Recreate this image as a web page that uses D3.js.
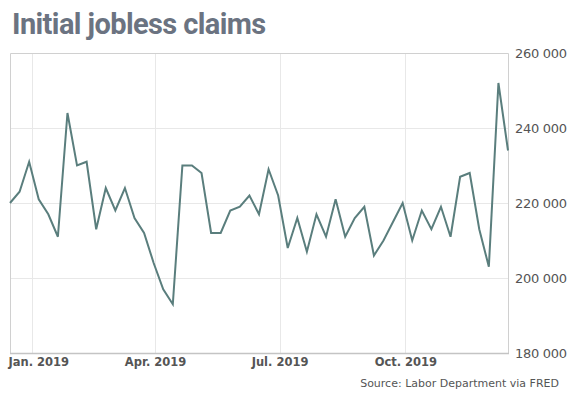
<!DOCTYPE html>
<html><head><meta charset="utf-8">
<script src="https://cdn.jsdelivr.net/npm/d3@7"></script>
<style>body{margin:0;background:#fff}svg{display:block}</style>
</head><body>
<svg id="c" width="569" height="398"></svg>
<script>
const dates = ["2018-12-16","2018-12-23","2018-12-30","2019-01-06","2019-01-13","2019-01-20","2019-01-27","2019-02-03","2019-02-10","2019-02-17","2019-02-24","2019-03-03","2019-03-10","2019-03-17","2019-03-24","2019-03-31","2019-04-07","2019-04-14","2019-04-21","2019-04-28","2019-05-05","2019-05-12","2019-05-19","2019-05-26","2019-06-02","2019-06-09","2019-06-16","2019-06-23","2019-06-30","2019-07-07","2019-07-14","2019-07-21","2019-07-28","2019-08-04","2019-08-11","2019-08-18","2019-08-25","2019-09-01","2019-09-08","2019-09-15","2019-09-22","2019-09-29","2019-10-06","2019-10-13","2019-10-20","2019-10-27","2019-11-03","2019-11-10","2019-11-17","2019-11-24","2019-12-01","2019-12-08","2019-12-15"];
const claims = [220000,223000,231000,221000,217000,211000,244000,230000,231000,213000,224000,218000,224000,216000,212000,204000,197000,193000,230000,230000,228000,212000,212000,218000,219000,222000,217000,229000,222000,208000,216000,207000,217000,211000,221000,211000,216000,219000,206000,210000,215000,220000,210000,218000,213000,219000,211000,227000,228000,213000,203000,252000,234000];
const xTicks = ["2019-01-01","2019-04-01","2019-07-01","2019-10-01"];
const xTickLabels = ["Jan. 2019","Apr. 2019","Jul. 2019","Oct. 2019"];
const yTicks = [180000,200000,220000,240000,260000];
const title = "Initial jobless claims";
const source = "Source: Labor Department via FRED";

const parse = d3.timeParse("%Y-%m-%d");
const data = dates.map((d,i)=>({date:parse(d), v:claims[i]}));
const L=10, R=508, T=53, B=353;
const svg = d3.select("#c");
const x = d3.scaleTime().domain(d3.extent(data,d=>d.date)).range([L,R]);
const y = d3.scaleLinear().domain([180000,260000]).range([B,T]);

svg.append("text").attr("x",12).attr("y",34).text(title)
  .attr("font-family","Roboto").attr("font-weight","bold").attr("font-size",29)
  .attr("fill","#6b7381").attr("letter-spacing","-0.6");

const fmt = v => d3.format(",")(v).replace(/,/g," ");
// grid
const g = svg.append("g");
g.selectAll(".hy").data(yTicks.slice(1,-1)).join("line")
  .attr("x1",L).attr("x2",R).attr("y1",d=>y(d)+0.5).attr("y2",d=>y(d)+0.5)
  .attr("stroke","#e8e8e8").attr("stroke-width",1);
g.selectAll(".vx").data(xTicks).join("line")
  .attr("x1",d=>Math.round(x(parse(d)))+0.5).attr("x2",d=>Math.round(x(parse(d)))+0.5)
  .attr("y1",T).attr("y2",B).attr("stroke","#e8e8e8");
// frame
svg.append("path").attr("d",`M${L+0.5},${B}V${T+0.5}H${R+0.5}V${B}`).attr("fill","none").attr("stroke","#d0d0d0");
svg.append("line").attr("x1",L).attr("x2",R+1).attr("y1",B+0.5).attr("y2",B+0.5).attr("stroke","#c4c4c4").attr("stroke-width",1.5);

// y axis labels
const yAxis = d3.axisRight(y).tickValues(yTicks).tickFormat(fmt).tickSize(0).tickPadding(0);
const ya = svg.append("g").attr("transform",`translate(515,0)`).call(yAxis);
ya.select(".domain").remove();
ya.selectAll("text").attr("font-family","DejaVu Sans").attr("font-size",13).attr("letter-spacing","-0.3").attr("fill","#555").attr("x",0);

// x axis labels
const xAxis = d3.axisBottom(x).tickValues(xTicks.map(parse)).tickFormat((d,i)=>xTickLabels[i]).tickSize(0).tickPadding(0);
const xa = svg.append("g").attr("transform",`translate(0,${B+5})`).call(xAxis);
xa.select(".domain").remove();
xa.selectAll("text").attr("font-family","DejaVu Sans").attr("font-weight","bold").attr("font-size",11.5).attr("fill","#555").attr("dy","0.71em");
xa.selectAll("text").filter((d,i)=>i===0).attr("text-anchor","start").attr("x",-x(parse(xTicks[0]))+8);

// line
svg.append("path").datum(data).attr("fill","none").attr("stroke","#5a7e7d").attr("stroke-width",2)
  .attr("stroke-linejoin","miter").attr("d",d3.line().x(d=>x(d.date)).y(d=>y(d.v)));

svg.append("text").attr("x",559).attr("y",387).attr("text-anchor","end").text(source)
  .attr("font-family","DejaVu Sans").attr("font-size",11).attr("font-weight",500).attr("fill","#555");
</script>
</body></html>
